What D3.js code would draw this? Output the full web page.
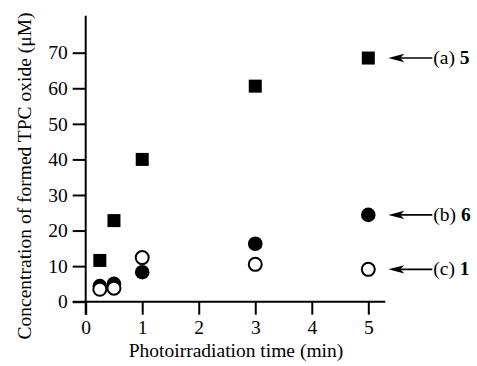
<!DOCTYPE html>
<html><head><meta charset="utf-8">
<script src="https://cdn.jsdelivr.net/npm/d3@7"></script>
<style>body{margin:0;background:#fff}svg{display:block}text{font-family:"Liberation Serif","Times New Roman",serif;fill:#000}</style>
</head><body><svg id="c" width="477" height="366"></svg>
<script>
const times = [0.25, 0.5, 1, 3, 5];
const series5 = [11.6, 22.8, 40.0, 60.6, 68.5];
const series6 = [4.4, 5.0, 8.3, 16.3, 24.4];
const series1 = [3.5, 3.8, 12.4, 10.5, 9.1];
const xTicks = [0, 1, 2, 3, 4, 5];
const yTicks = [0, 10, 20, 30, 40, 50, 60, 70];
const labels = [{pre: "(a) ", num: "5"}, {pre: "(b) ", num: "6"}, {pre: "(c) ", num: "1"}];

const FS = "19.5px";
const svg = d3.select("#c");
const x = d3.scaleLinear().domain([0, 5]).range([85.7, 368.3]);
const y = d3.scaleLinear().domain([0, 70]).range([301.7, 52.7]);
const T = 13;

const g = svg.append("g");
g.append("line").attr("x1", x(0) - T).attr("x2", x(5.3)).attr("y1", y(0)).attr("y2", y(0)).attr("stroke", "#000").attr("stroke-width", 2);
g.append("line").attr("x1", x(0)).attr("x2", x(0)).attr("y1", y(0) + T).attr("y2", y(80.4)).attr("stroke", "#000").attr("stroke-width", 2);

const xa = svg.append("g").attr("transform", `translate(0,${y(0)})`)
  .call(d3.axisBottom(x).tickValues(xTicks).tickSize(T).tickPadding(5).tickFormat(d3.format("d")));
const ya = svg.append("g").attr("transform", `translate(${x(0)},0)`)
  .call(d3.axisLeft(y).tickValues(yTicks).tickSize(T).tickPadding(5).tickFormat(d3.format("d")));
[xa, ya].forEach(a => {
  a.select(".domain").remove();
  a.selectAll("line").attr("stroke", "#000").attr("stroke-width", 2);
  a.selectAll("text").style("font-family", '"Liberation Serif",serif').style("font-size", FS).attr("fill", "#000");
});

svg.append("text").attr("x", 236).attr("y", 357).attr("text-anchor", "middle").style("font-size", FS)
  .text("Photoirradiation time (min)");
svg.append("text").attr("transform", "translate(31,176) rotate(-90)").attr("text-anchor", "middle").style("font-size", FS)
  .text("Concentration of formed TPC oxide (\u03bcM)");

const S = 13;
svg.append("g").selectAll("rect").data(times.map((t, i) => [t, series5[i]])).join("rect")
  .attr("x", d => x(d[0]) - S / 2).attr("y", d => y(d[1]) - S / 2).attr("width", S).attr("height", S).attr("fill", "#000");
svg.append("g").selectAll("circle").data(times.map((t, i) => [t, series6[i]])).join("circle")
  .attr("cx", d => x(d[0])).attr("cy", d => y(d[1])).attr("r", 7.3).attr("fill", "#000");
svg.append("g").selectAll("circle").data(times.map((t, i) => [t, series1[i]])).join("circle")
  .attr("cx", d => x(d[0])).attr("cy", d => y(d[1])).attr("r", 6.5).attr("fill", "#fff").attr("stroke", "#000").attr("stroke-width", 2);

const lastVals = [series5[4], series6[4], series1[4]];
const ag = svg.append("g");
lastVals.forEach((v, i) => {
  const yy = y(v), tip = x(5) + 20, tail = x(5) + 64;
  ag.append("line").attr("x1", tip + 10).attr("x2", tail).attr("y1", yy).attr("y2", yy).attr("stroke", "#000").attr("stroke-width", 1.6);
  ag.append("path").attr("d", `M${tip},${yy} L${tip + 16},${yy - 4.2} L${tip + 12},${yy} L${tip + 16},${yy + 4.2} Z`).attr("fill", "#000");
  const t = ag.append("text").attr("x", tail + 1).attr("y", yy + 6).style("font-size", FS);
  t.append("tspan").text(labels[i].pre);
  t.append("tspan").style("font-weight", "bold").text(labels[i].num);
});
</script></body></html>
